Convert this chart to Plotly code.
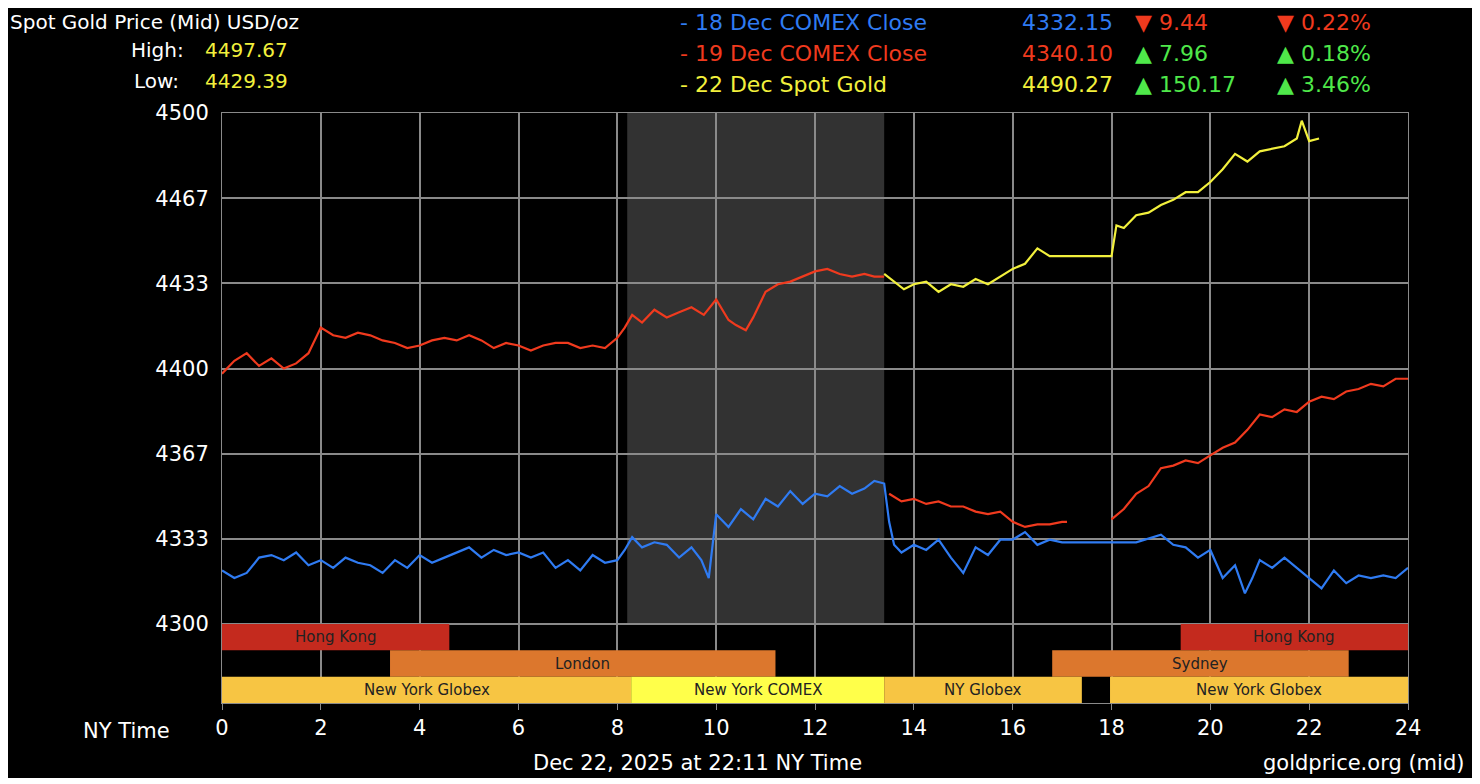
import plotly.graph_objects as go

# hours (NY time) and prices
blue_x = [0, 0.25, 0.5, 0.75, 1, 1.25, 1.5, 1.75, 2, 2.25, 2.5, 2.75, 3, 3.25, 3.5, 3.75, 4, 4.25, 4.5, 4.75,
          5, 5.25, 5.5, 5.75, 6, 6.25, 6.5, 6.75, 7, 7.25, 7.5, 7.75, 8, 8.15, 8.3, 8.5, 8.75, 9, 9.25, 9.5,
          9.7, 9.85, 10, 10.25, 10.5, 10.75, 11, 11.25, 11.5, 11.75, 12, 12.25, 12.5, 12.75, 13, 13.2, 13.4,
          13.5, 13.6, 13.75, 14, 14.25, 14.5, 14.75, 15, 15.25, 15.5, 15.75, 16, 16.25, 16.5, 16.75, 17,
          17.5, 18, 18.5, 19, 19.25, 19.5, 19.75, 20, 20.25, 20.5, 20.7, 20.85, 21, 21.25, 21.5, 21.75, 22,
          22.25, 22.5, 22.75, 23, 23.25, 23.5, 23.75, 24]
blue_y = [4321, 4318, 4320, 4326, 4327, 4325, 4328, 4323, 4325, 4322, 4326, 4324, 4323, 4320, 4325, 4322, 4327, 4324,
          4326, 4328, 4330, 4326, 4329, 4327, 4328, 4326, 4328, 4322, 4325, 4321, 4327, 4324, 4325, 4329, 4334,
          4330, 4332, 4331, 4326, 4330, 4325, 4318, 4343, 4338, 4345, 4341, 4349, 4346, 4352, 4347, 4351, 4350,
          4354, 4351, 4353, 4356, 4355, 4340, 4331, 4328, 4331, 4329, 4333, 4326, 4320, 4330, 4327, 4333, 4333,
          4336, 4331, 4333, 4332, 4332, 4332, 4332, 4335, 4331, 4330, 4326, 4329, 4318, 4323, 4312, 4318, 4325,
          4322, 4326, 4322, 4318, 4314, 4321, 4316, 4319, 4318, 4319, 4318, 4322]

red_x = [0, 0.25, 0.5, 0.75, 1, 1.25, 1.5, 1.75, 2, 2.25, 2.5, 2.75, 3, 3.25, 3.5, 3.75, 4, 4.25, 4.5, 4.75,
         5, 5.25, 5.5, 5.75, 6, 6.25, 6.5, 6.75, 7, 7.25, 7.5, 7.75, 8, 8.15, 8.3, 8.5, 8.75, 9, 9.25, 9.5,
         9.75, 10, 10.25, 10.4, 10.6, 10.75, 11, 11.25, 11.5, 11.75, 12, 12.25, 12.5, 12.75, 13, 13.2, 13.4,
         None, 13.5, 13.75, 14, 14.25, 14.5, 14.75, 15, 15.25, 15.5, 15.75, 16, 16.25, 16.5, 16.75, 17, 17.1,
         None, 18, 18.25, 18.5, 18.75, 19, 19.25, 19.5, 19.75, 20, 20.25, 20.5, 20.75, 21, 21.25, 21.5, 21.75,
         22, 22.25, 22.5, 22.75, 23, 23.25, 23.5, 23.75, 24]
red_y = [4398, 4403, 4406, 4401, 4404, 4400, 4402, 4406, 4416, 4413, 4412, 4414, 4413, 4411, 4410, 4408, 4409, 4411,
         4412, 4411, 4413, 4411, 4408, 4410, 4409, 4407, 4409, 4410, 4410, 4408, 4409, 4408, 4412, 4416, 4421,
         4418, 4423, 4420, 4422, 4424, 4421, 4427, 4419, 4417, 4415, 4420, 4430, 4433, 4434, 4436, 4438, 4439,
         4437, 4436, 4437, 4436, 4436, None, 4351, 4348, 4349, 4347, 4348, 4346, 4346, 4344, 4343, 4344, 4340,
         4338, 4339, 4339, 4340, 4340, None, 4341, 4345, 4351, 4354, 4361, 4362, 4364, 4363, 4366, 4369, 4371,
         4376, 4382, 4381, 4384, 4383, 4387, 4389, 4388, 4391, 4392, 4394, 4393, 4396, 4396, 4399]

gold_x = [13.4, 13.6, 13.8, 14, 14.25, 14.5, 14.75, 15, 15.25, 15.5, 15.75, 16, 16.25, 16.5, 16.75, 17, 17.5,
          18, 18.1, 18.25, 18.5, 18.75, 19, 19.25, 19.5, 19.75, 20, 20.25, 20.5, 20.75, 21, 21.25, 21.5, 21.75,
          21.85, 22, 22.2]
gold_y = [4437, 4434, 4431, 4433, 4434, 4430, 4433, 4432, 4435, 4433, 4436, 4439, 4441, 4447, 4444, 4444, 4444,
          4444, 4456, 4455, 4460, 4461, 4464, 4466, 4469, 4469, 4473, 4478, 4484, 4481, 4485, 4486, 4487, 4490,
          4497, 4489, 4490]

sessions = [
    ("Hong Kong", 0, 4.6, 0), ("Hong Kong", 19.4, 24, 0),
    ("London", 3.4, 11.2, 1), ("Sydney", 16.8, 22.8, 1),
    ("New York Globex", 0, 8.28, 2), ("New York COMEX", 8.28, 13.4, 2),
    ("NY Globex", 13.4, 17.4, 2), ("New York Globex", 17.97, 24, 2),
]
session_colors = {"Hong Kong": "#c42a1e", "London": "#dc772d", "Sydney": "#dc772d",
                  "New York Globex": "#f7c543", "NY Globex": "#f7c543", "New York COMEX": "#ffff4a"}
comex_window = (8.2, 13.4)

y_ticks = [4300, 4333.33, 4366.67, 4400, 4433.33, 4466.67, 4500]
y_labels = ["4300", "4333", "4367", "4400", "4433", "4467", "4500"]

FONT = "DejaVu Sans"
BLUE, RED, YEL, GRN = "#2f7bf2", "#f03a1e", "#f2f03c", "#4fe84a"

fig = go.Figure()
fig.add_trace(go.Scatter(x=blue_x, y=blue_y, mode="lines", line=dict(color=BLUE, width=2.2), connectgaps=False))
fig.add_trace(go.Scatter(x=red_x, y=red_y, mode="lines", line=dict(color=RED, width=2.2), connectgaps=False))
fig.add_trace(go.Scatter(x=gold_x, y=gold_y, mode="lines", line=dict(color=YEL, width=2.2)))

band_h = 10.3
ymin = 4300 - 3 * band_h
fig.add_shape(type="rect", x0=comex_window[0], x1=comex_window[1], y0=4300, y1=4500,
              fillcolor="#323232", line_width=0, layer="below")
for name, a, b, row in sessions:
    top = 4300 - row * band_h
    fig.add_shape(type="rect", x0=a, x1=b, y0=top - band_h, y1=top,
                  fillcolor=session_colors[name], line_width=0, layer="above")
    fig.add_annotation(x=(a + b) / 2, y=top - band_h / 2, text=name, showarrow=False,
                       font=dict(size=15, color="#222", family=FONT))


def ann(px, py, text, color, anchor="left", size=21):
    fig.add_annotation(xref="paper", yref="paper", x=(px - 222) / 1186, y=(703 - py) / 590,
                       text=text, showarrow=False, xanchor=anchor, yanchor="middle",
                       font=dict(size=size, color=color, family=FONT))


ann(8, 22, "Spot Gold Price (Mid) USD/oz", "white", size=20)
ann(186, 50, "High:", "white", "right", 20)
ann(203, 50, "4497.67", YEL, size=20)
ann(181, 81, "Low:", "white", "right", 20)
ann(203, 81, "4429.39", YEL, size=20)
rows = [("- 18 Dec COMEX Close", "4332.15", "▼ 9.44", "▼ 0.22%", BLUE, RED),
        ("- 19 Dec COMEX Close", "4340.10", "▲ 7.96", "▲ 0.18%", RED, GRN),
        ("- 22 Dec Spot Gold", "4490.27", "▲ 150.17", "▲ 3.46%", YEL, GRN)]
for i, (lab, val, ch, pct, c1, c2) in enumerate(rows):
    py = 22 + i * 31
    ann(678, py, lab, c1, size=22)
    ann(1115, py, val, c1, "right", 22)
    ann(1133, py, ch, c2, size=22)
    ann(1275, py, pct, c2, size=22)
ann(172, 731, "NY Time", "white", "right")
ann(697, 763, "Dec 22, 2025 at 22:11 NY Time", "white", "center")
ann(1466, 763, "goldprice.org (mid)", "white", "right")

fig.update_layout(
    width=1464, height=770, paper_bgcolor="black", plot_bgcolor="black",
    margin=dict(l=214, r=64, t=105, b=75), showlegend=False,
    font=dict(family=FONT, color="white", size=20),
)
fig.update_xaxes(range=[0, 24], tickvals=list(range(0, 25, 2)), showgrid=True, gridcolor="#8a8a8a",
                 gridwidth=1.5, zeroline=False, showline=True, mirror=True, linecolor="#8a8a8a",
                 ticks="outside", ticklen=6, tickcolor="#8a8a8a", tickfont=dict(size=21, color="white"))
fig.update_yaxes(range=[ymin, 4500], tickvals=y_ticks, ticktext=y_labels, showgrid=True,
                 gridcolor="#8a8a8a", gridwidth=1.5, zeroline=False, showline=True, mirror=True,
                 linecolor="#8a8a8a", ticks="", ticklabelstandoff=8, tickfont=dict(size=21, color="white"))

fig.write_html("out.html")
